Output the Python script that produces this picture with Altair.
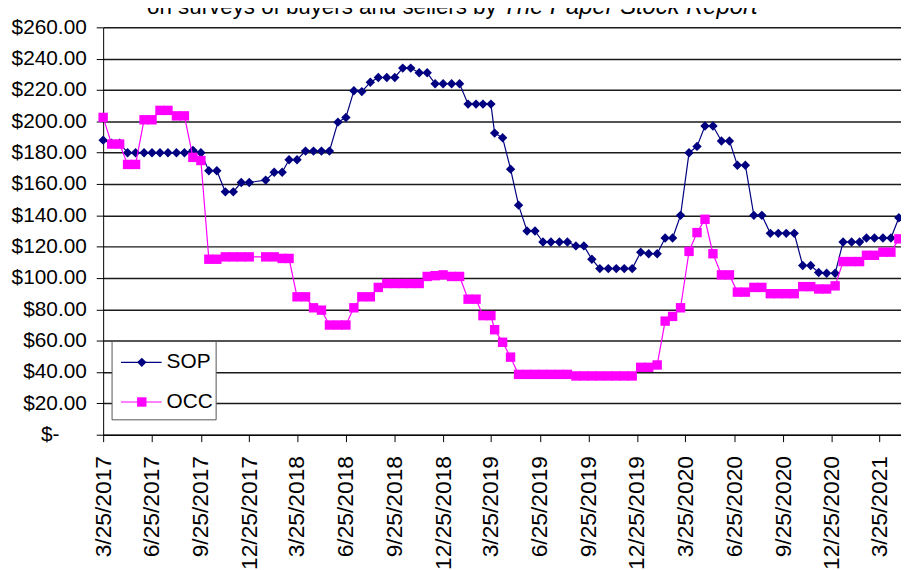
import altair as alt
import pandas as pd

TITLE_PLAIN = "on surveys of buyers and sellers by"
TITLE_ITALIC = "The Paper Stock Report"
SERIES = ["SOP", "OCC"]
COLORS = {"SOP": "#000080", "OCC": "#FF00FF"}
SHAPES = {"SOP": "diamond", "OCC": "square"}
ZERO_LABEL = "$-"

DATES = [
    "2017-03-25",
    "2017-04-10", "2017-04-25", "2017-05-10", "2017-05-25", "2017-06-10", "2017-06-25",
    "2017-07-10", "2017-07-25", "2017-08-10", "2017-08-25", "2017-09-10", "2017-09-25",
    "2017-10-10", "2017-10-25", "2017-11-10", "2017-11-25", "2017-12-10", "2017-12-25",
    "2018-01-25", "2018-02-10", "2018-02-25", "2018-03-10", "2018-03-25",
    "2018-04-10", "2018-04-25", "2018-05-10", "2018-05-25", "2018-06-10", "2018-06-25",
    "2018-07-10", "2018-07-25", "2018-08-10", "2018-08-25", "2018-09-10", "2018-09-25",
    "2018-10-10", "2018-10-25", "2018-11-10", "2018-11-25", "2018-12-10", "2018-12-25",
    "2019-01-10", "2019-01-25", "2019-02-10", "2019-02-25", "2019-03-10", "2019-03-25",
    "2019-04-01", "2019-04-16", "2019-05-01", "2019-05-16", "2019-06-01", "2019-06-16",
    "2019-07-01", "2019-07-16", "2019-08-01", "2019-08-16", "2019-09-01", "2019-09-16",
    "2019-10-01", "2019-10-16", "2019-11-01", "2019-11-16", "2019-12-01", "2019-12-16",
    "2020-01-01", "2020-01-16", "2020-02-01", "2020-02-16", "2020-03-01", "2020-03-16",
    "2020-04-01", "2020-04-16", "2020-05-01", "2020-05-16", "2020-06-01", "2020-06-16",
    "2020-07-01", "2020-07-16", "2020-08-01", "2020-08-16", "2020-09-01", "2020-09-16",
    "2020-10-01", "2020-10-16", "2020-11-01", "2020-11-16", "2020-12-01", "2020-12-16",
    "2021-01-01", "2021-01-16", "2021-02-01", "2021-02-16", "2021-03-01", "2021-03-16",
    "2021-04-01", "2021-04-16", "2021-05-01",
]

SOP = [
    188, 186, 186, 180, 180, 180, 180, 180, 180, 180, 180,
    181.5, 180, 168.5, 168.5, 155, 155, 161, 161,
    162.5, 167.5, 167.5, 175.5, 175.5,
    181, 181, 181, 181, 199.5, 202.5, 219.5, 219, 225, 228, 228, 228,
    234, 234, 231, 231, 224, 224, 224, 224, 211, 211, 211, 211,
    192.5, 189.5, 169.5, 146.5, 130, 130, 123, 123, 123, 123, 120.5, 120.5,
    112, 106, 106, 106, 106, 106, 116.5, 115.5, 115.5, 125.5, 125.5, 140,
    180, 184, 197, 197, 187.5, 187.5, 172, 172, 140, 140, 128.5, 128.5,
    128.5, 128.5, 108, 108, 103.5, 103, 103, 123, 123, 123, 125.5, 125.5,
    125.5, 125.5, 138.5,
]

OCC = [
    202.5, 185.5, 185.5, 172.5, 172.5, 201, 201, 207, 207, 203.5, 203.5,
    177, 175, 112, 112, 113.5, 113.5, 113.5, 113.5,
    113.5, 113.5, 112.5, 112.5, 88,
    88, 81, 79.5, 70, 70, 70, 81, 88, 88, 94, 96.5, 96.5,
    96.5, 96.5, 96.5, 101, 101.5, 102, 101, 101, 86.5, 86.5, 76, 76,
    67, 59, 49.5, 38.5, 38.5, 38.5, 38.5, 38.5, 38.5, 38.5, 37.5, 37.5,
    37.5, 37.5, 37.5, 37.5, 37.5, 37.5, 43, 43, 44.5, 72.5, 75.5, 81,
    117, 129, 137.5, 115.5, 102, 102, 91, 91, 94, 94, 90, 90,
    90, 90, 94.5, 94.5, 93, 93, 95, 110.5, 110.5, 110.5, 114.5, 114.5,
    116.5, 116.5, 125,
]

TICK_DATES = [
    "2017-03-25", "2017-06-25", "2017-09-25", "2017-12-25",
    "2018-03-25", "2018-06-25", "2018-09-25", "2018-12-25",
    "2019-03-25", "2019-06-25", "2019-09-25", "2019-12-25",
    "2020-03-25", "2020-06-25", "2020-09-25", "2020-12-25",
    "2021-03-25",
]
X_DOMAIN = ["2017-03-25", "2021-05-05"]
Y_TICKS = [0, 20, 40, 60, 80, 100, 120, 140, 160, 180, 200, 220, 240, 260]

FONT = "Liberation Sans, Arial, sans-serif"
PLOT_W = 805
PLOT_H = 411


def ms(s):
    return int(pd.Timestamp(s).value // 10**6)


VALUES = {"SOP": SOP, "OCC": OCC}

x_enc = alt.X(
    "date:T",
    scale=alt.Scale(type="utc", domain=[ms(d) for d in X_DOMAIN], nice=False),
    axis=alt.Axis(
        values=[ms(d) for d in TICK_DATES],
        labelExpr="utcFormat(datum.value, '%-m/%d/%Y')",
        labelAngle=270,
        tickSize=7,
        labelPadding=14,
        grid=False,
        domainColor="#000000",
        tickColor="#000000",
        labelColor="#000000",
        labelFont=FONT,
        labelFontSize=23,
        labelOverlap=False,
        labelFlush=False,
        title=None,
    ),
)
y_enc = alt.Y(
    "value:Q",
    scale=alt.Scale(domain=[0, 260], nice=False, zero=True),
    axis=alt.Axis(
        values=Y_TICKS,
        labelExpr="datum.value == 0 ? '' : '$' + format(datum.value, '.2f')",
        grid=True,
        gridColor="#1a1a1a",
        gridWidth=1.5,
        tickSize=7,
        labelPadding=10,
        domainColor="#000000",
        tickColor="#000000",
        labelColor="#000000",
        labelFont=FONT,
        labelFontSize=21,
        labelOverlap=False,
        labelFlush=False,
        title=None,
    ),
)

layers = []
for s in SERIES:
    d = pd.DataFrame({"date": DATES, "value": VALUES[s]})
    base = alt.Chart(d)
    layers.append(base.mark_line(color=COLORS[s], strokeWidth=1.2).encode(x=x_enc, y=y_enc))
    layers.append(
        base.mark_point(
            shape=SHAPES[s], filled=True, color=COLORS[s], size=90, opacity=1
        ).encode(x=x_enc, y=y_enc)
    )

# accounting-style zero label of the value axis (sits at the bottom of the plot)
layers.append(
    alt.Chart(pd.DataFrame({"t": [ZERO_LABEL]}))
    .mark_text(align="right", baseline="middle", font=FONT, fontSize=21, color="#000000")
    .encode(x=alt.value(-44), y=alt.value(PLOT_H), text="t:N")
)

# legend box
legend_rows = [338, 378]
layers.append(
    alt.Chart(pd.DataFrame({"k": [0]}))
    .mark_rect(fill="white", stroke="#555555", strokeWidth=1)
    .encode(x=alt.value(9), x2=alt.value(114), y=alt.value(317), y2=alt.value(396))
)
for s, ly in zip(SERIES, legend_rows):
    ld = alt.Chart(pd.DataFrame({"label": [s]}))
    layers.append(
        ld.mark_rule(color=COLORS[s], strokeWidth=1.2).encode(
            x=alt.value(18), x2=alt.value(59), y=alt.value(ly)
        )
    )
    layers.append(
        ld.mark_point(shape=SHAPES[s], filled=True, color=COLORS[s], size=90, opacity=1).encode(
            x=alt.value(39), y=alt.value(ly)
        )
    )
    layers.append(
        ld.mark_text(align="left", baseline="middle", font=FONT, fontSize=21, color="#000000").encode(
            x=alt.value(64), y=alt.value(ly), text="label:N"
        )
    )

# partially visible title
layers.append(
    alt.Chart(pd.DataFrame({"t": [TITLE_PLAIN]}))
    .mark_text(align="right", baseline="alphabetic", font=FONT, fontSize=22.5, color="#000000")
    .encode(x=alt.value(397), y=alt.value(-13), text="t:N")
)
layers.append(
    alt.Chart(pd.DataFrame({"t": [TITLE_ITALIC]}))
    .mark_text(align="left", baseline="alphabetic", font=FONT, fontSize=24, fontStyle="italic", color="#000000")
    .encode(x=alt.value(403), y=alt.value(-13), text="t:N")
)

chart = (
    alt.layer(*layers)
    .properties(
        width=PLOT_W,
        height=PLOT_H,
        autosize=alt.AutoSizeParams(type="none"),
        padding={"left": 96, "top": 17, "right": 0, "bottom": 134},
        background="white",
    )
    .configure_view(stroke=None)
)

chart.save("out.html", embed_options={"renderer": "svg", "actions": False})
